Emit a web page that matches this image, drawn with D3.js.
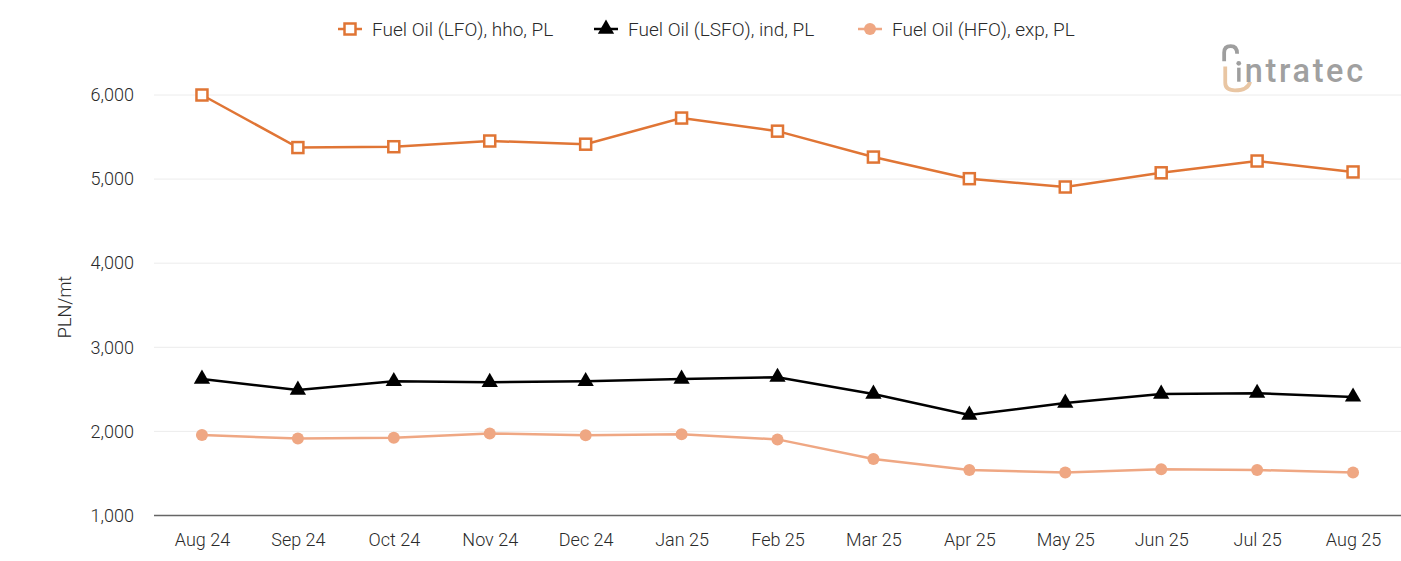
<!DOCTYPE html>
<html>
<head>
<meta charset="utf-8">
<script src="https://cdn.jsdelivr.net/npm/d3@7"></script>
<style>
  body { margin: 0; background: #fff; }
  text { font-family: Roboto, "Noto Sans", sans-serif; font-weight: 300; }
</style>
</head>
<body>
<div id="chart"></div>
<script>
const months = ["Aug 24", "Sep 24", "Oct 24", "Nov 24", "Dec 24", "Jan 25", "Feb 25",
    "Mar 25", "Apr 25", "May 25", "Jun 25", "Jul 25", "Aug 25"];
const lfo = [6000, 5375, 5385, 5453, 5415, 5726, 5570, 5262, 5005, 4906, 5075, 5215, 5085];
const lsfo = [2623, 2492, 2595, 2585, 2595, 2623, 2645, 2445, 2195, 2338, 2445, 2455, 2410];
const hfo = [1957, 1915, 1925, 1975, 1955, 1965, 1905, 1672, 1541, 1510, 1550, 1541, 1512];
const yTicks = [1000, 2000, 3000, 4000, 5000, 6000];

const width = 1401, height = 561;
const plotLeft = 154, plotRight = 1401, plotTop = 95, plotBottom = 515.5;
const fontSize = 18;

const svg = d3.select("#chart").append("svg")
    .attr("width", width).attr("height", height);

const x = d3.scalePoint().domain(months).range([plotLeft, plotRight]).padding(0.5);
const y = d3.scaleLinear().domain([1000, 6000]).range([plotBottom, plotTop]);

// grid
svg.append("g")
    .selectAll("line")
    .data(yTicks.slice(1))
    .join("line")
    .attr("x1", plotLeft).attr("x2", plotRight)
    .attr("y1", d => y(d)).attr("y2", d => y(d))
    .attr("stroke", "#ececec");

// y axis labels
const yAxis = svg.append("g")
    .attr("transform", `translate(${plotLeft},0)`)
    .call(d3.axisLeft(y).tickValues(yTicks).tickFormat(d3.format(",")).tickSize(0).tickPadding(20));
yAxis.select(".domain").remove();
yAxis.selectAll("text").attr("font-size", fontSize).attr("fill", "#2a2a2a")
    .attr("font-family", "Roboto, sans-serif");

// x axis
const xAxis = svg.append("g")
    .attr("transform", `translate(0,${plotBottom})`)
    .call(d3.axisBottom(x).tickSize(0).tickPadding(18));
xAxis.select(".domain").attr("stroke", "#666").attr("stroke-width", 1.3)
    .attr("d", `M${plotLeft},0H${plotRight}`);
xAxis.selectAll("text").attr("font-size", fontSize).attr("fill", "#2a2a2a")
    .attr("font-family", "Roboto, sans-serif");

svg.append("text")
    .attr("transform", "translate(71,307) rotate(-90)")
    .attr("text-anchor", "middle")
    .attr("font-size", fontSize).attr("fill", "#2a2a2a")
    .text("PLN/mt");

const series = [
    { name: "Fuel Oil (LFO), hho, PL", values: lfo, color: "#e07535", shape: "square" },
    { name: "Fuel Oil (LSFO), ind, PL", values: lsfo, color: "#000000", shape: "triangle" },
    { name: "Fuel Oil (HFO), exp, PL", values: hfo, color: "#efa783", shape: "circle" }
];

const line = d3.line().x((d, i) => x(months[i])).y(d => y(d));

function marker(g, s) {
    if (s.shape === "square") {
        g.append("rect").attr("x", -5.5).attr("y", -5.5).attr("width", 11).attr("height", 11)
            .attr("fill", "#fff").attr("stroke", s.color).attr("stroke-width", 2.5);
    } else if (s.shape === "triangle") {
        g.append("path").attr("d", d3.symbol(d3.symbolTriangle, 115)())
            .attr("fill", s.color);
    } else {
        g.append("circle").attr("r", 6).attr("fill", s.color);
    }
}

series.forEach(s => {
    svg.append("path")
        .datum(s.values)
        .attr("d", line)
        .attr("fill", "none")
        .attr("stroke", s.color)
        .attr("stroke-width", 2.5);
    svg.append("g")
        .selectAll("g")
        .data(s.values)
        .join("g")
        .attr("transform", (d, i) => `translate(${x(months[i])},${y(d)})`)
        .each(function () { marker(d3.select(this), s); });
});

// legend
const legendX = [350, 606, 870];
series.forEach((s, i) => {
    const g = svg.append("g").attr("transform", `translate(${legendX[i]},29)`);
    g.append("line").attr("x1", -12).attr("x2", 12)
        .attr("stroke", s.color).attr("stroke-width", 2.5);
    marker(g, s);
    g.append("text").attr("x", 22).attr("y", 6.5)
        .attr("font-size", 19).attr("fill", "#2a2a2a").text(s.name);
});

// logo
const logo = svg.append("g").attr("transform", "translate(1222,45) scale(1.08) translate(-1222,-42)");
logo.append("path").attr("d", "M1224,57 V49 Q1224,43 1230,43 Q1236,43 1236,50")
    .attr("fill", "none").attr("stroke", "#9e9e9e").attr("stroke-width", 3.5);
logo.append("path").attr("d", "M1225,62 V77 Q1225,84 1234,84 Q1246,84 1248,76")
    .attr("fill", "none").attr("stroke", "#e9c6a3").attr("stroke-width", 3.5);
logo.append("circle").attr("cx", 1237.5).attr("cy", 59).attr("r", 2.2).attr("fill", "#9e9e9e");
logo.append("rect").attr("x", 1236).attr("y", 63).attr("width", 3.2).attr("height", 13).attr("fill", "#9e9e9e");
logo.append("text").attr("x", 1243).attr("y", 76)
    .attr("font-size", 30).style("font-weight", 500).attr("fill", "#a0a0a0")
    .attr("letter-spacing", 2.5)
    .text("ntratec");
</script>
</body>
</html>
